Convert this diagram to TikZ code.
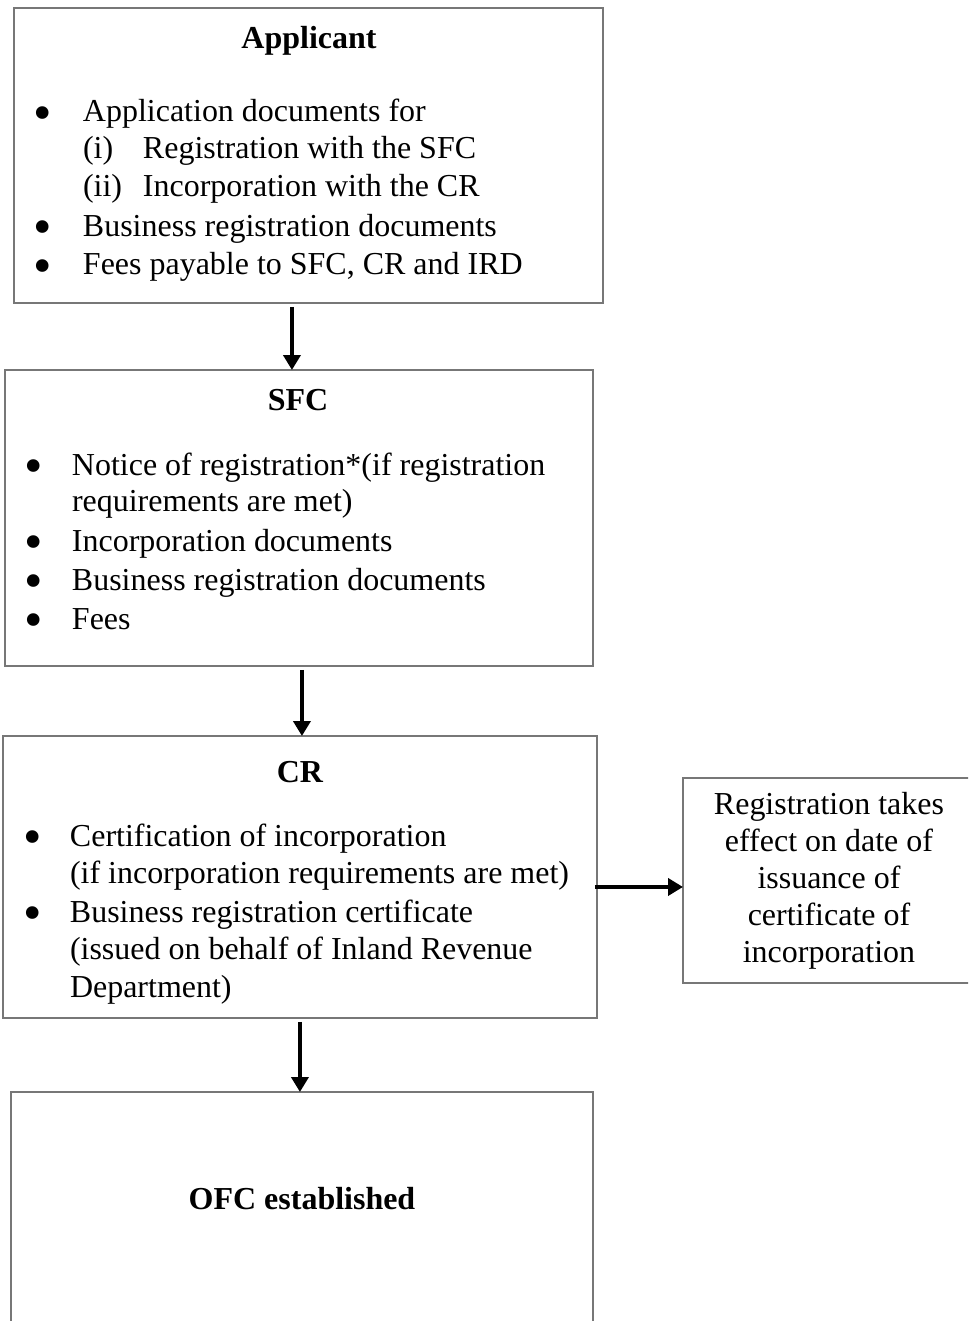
\documentclass[tikz,border=0pt]{standalone}
\usepackage{fontspec}
\setmainfont{Liberation Serif}
\usetikzlibrary{arrows.meta,positioning}
\definecolor{BoxGray}{HTML}{777777}
\newcommand{\bl}[2]{\makebox[#1][l]{\smash{\raisebox{-0.17cm}{\scalebox{1.65}{\textbullet}}}}#2}

\begin{document}
\begin{tikzpicture}[
        x=0.02cm,y=-0.02cm,
        every node/.style={inner sep=0pt,outer sep=0pt,font=\fontsize{18.2}{21}\selectfont},
        box/.style={draw=BoxGray,line width=0.75pt,rectangle,anchor=north west},
        ttl/.style={anchor=base,font=\fontsize{18.2}{21}\selectfont\bfseries},
        itm/.style={anchor=base west},
        flow/.style={-{Triangle[length=0.3cm,width=0.34cm]},line width=2.5pt,black}
    ]
    \useasboundingbox (0,0) rectangle (968,1321);
    \clip (0,0) rectangle (968,1321);

    % boxes
    \node[box,minimum width=11.78cm,minimum height=5.9cm] (applicant) at (14,8) {};
    \node[box,minimum width=11.76cm,minimum height=5.92cm] (sfc) at (5,370) {};
    \node[box,minimum width=11.88cm,minimum height=5.64cm] (cr) at (3,736) {};
    \node[box,minimum width=11.64cm,minimum height=5.2cm] (ofc) at (11,1092) {};
    \node[box,minimum width=5.84cm,minimum height=4.1cm,align=center,
          execute at begin node=\setlength{\baselineskip}{0.74cm}] (effect) at (683,778) {
        Registration takes \\ effect on date of \\ issuance of \\ certificate of \\ incorporation
    };

    % Applicant
    \node[ttl] (apptitle) at (309,49) {Applicant};
    \node[itm] (app1) at (33,122) {\bl{1.0cm}{Application documents for}};
    \node[itm] (app2) at (83,159) {\makebox[1.2cm][l]{(i)}Registration with the SFC};
    \node[itm] (app3) at (83,196) {\makebox[1.2cm][l]{(ii)}Incorporation with the CR};
    \node[itm] (app4) at (33,236) {\bl{1.0cm}{Business registration documents}};
    \node[itm] (app5) at (33,275) {\bl{1.0cm}{Fees payable to SFC, CR and IRD}};

    % SFC
    \node[ttl] (sfctitle) at (298,410) {SFC};
    \node[itm] (sfc1) at (25,475) {\bl{0.94cm}{Notice of registration*(if registration}};
    \node[itm] (sfc2) at (72,511) {requirements are met)};
    \node[itm] (sfc3) at (25,551) {\bl{0.94cm}{Incorporation documents}};
    \node[itm] (sfc4) at (25,590) {\bl{0.94cm}{Business registration documents}};
    \node[itm] (sfc5) at (25,629) {\bl{0.94cm}{Fees}};

    % CR
    \node[ttl] (crtitle) at (300,782) {CR};
    \node[itm] (cr1) at (23,846) {\bl{0.94cm}{Certification of incorporation}};
    \node[itm] (cr2) at (70,883) {(if incorporation requirements are met)};
    \node[itm] (cr3) at (23,922) {\bl{0.94cm}{Business registration certificate}};
    \node[itm] (cr4) at (70,959) {(issued on behalf of Inland Revenue};
    \node[itm] (cr5) at (70,997) {Department)};

    % OFC
    \node[ttl] (ofctitle) at (302,1209) {OFC established};

    % arrows
    \draw[flow,shorten <=0.08cm] ([xshift=-0.33cm]applicant.south) -- ([xshift=-0.33cm]applicant.south |- sfc.north);
    \draw[flow,shorten <=0.08cm] ([xshift=0.06cm]sfc.south) -- ([xshift=0.06cm]sfc.south |- cr.north);
    \draw[flow,shorten <=0.08cm] (cr.south) -- (cr.south |- ofc.north);
    \draw[flow,shorten <=-0.04cm] ([yshift=-0.2cm]cr.east) -- ([yshift=-0.2cm]cr.east -| effect.west);
\end{tikzpicture}
\end{document}
